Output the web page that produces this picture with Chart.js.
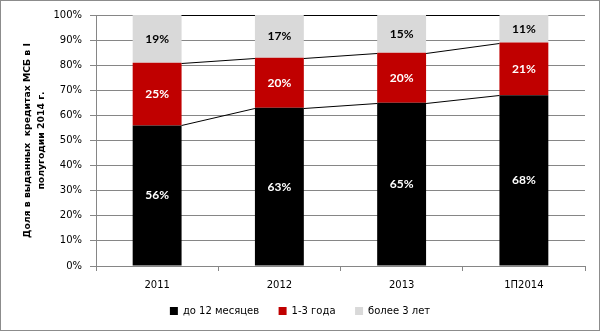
<!DOCTYPE html>
<html>
<head>
<meta charset="utf-8">
<script src="https://cdn.jsdelivr.net/npm/chart.js@4/dist/chart.umd.min.js"></script>
<style>
  html, body { margin: 0; padding: 0; background: #fff; }
  canvas { display: block; }
</style>
</head>
<body>
<canvas id="creditChart" width="600" height="331"></canvas>
<script>
const categories = ["2011", "2012", "2013", "1П2014"];
const seriesNames = ["до 12 месяцев", "1-3 года", "более 3 лет"];
const upTo12Months = [56, 63, 65, 68];
const oneToThreeYears = [25, 20, 20, 21];
const over3Years = [19, 17, 15, 11];
const yTicks = [0, 10, 20, 30, 40, 50, 60, 70, 80, 90, 100];

const colors = ["#000000", "#C00000", "#D9D9D9"];
const labelColors = ["#ffffff", "#ffffff", "#000000"];
const gridColor = "#868686";

// Линии ряда между столбцами + подписи значений
const seriesLines = {
    id: "seriesLines",
    afterDatasetsDraw(chart) {
        const ctx = chart.ctx;
        ctx.save();
        ctx.strokeStyle = "#000";
        ctx.lineWidth = 1;
        chart.data.datasets.forEach((ds, d) => {
            const bars = chart.getDatasetMeta(d).data;
            for (let i = 0; i < bars.length - 1; i++) {
                const a = bars[i], b = bars[i + 1];
                ctx.beginPath();
                ctx.moveTo(a.x + a.width / 2, Math.round(a.y) + 0.5);
                ctx.lineTo(b.x - b.width / 2, Math.round(b.y) + 0.5);
                ctx.stroke();
            }
        });
        ctx.font = "bold 12px Lato";
        ctx.textAlign = "center";
        ctx.textBaseline = "middle";
        chart.data.datasets.forEach((ds, d) => {
            const bars = chart.getDatasetMeta(d).data;
            ctx.fillStyle = labelColors[d];
            bars.forEach((bar, i) => {
                ctx.fillText(ds.data[i] + "%", bar.x, (bar.y + bar.base) / 2);
            });
        });
        ctx.restore();
    },
    afterDraw(chart) {
        const ctx = chart.ctx;
        ctx.save();
        ctx.strokeStyle = "#8c8c8c";
        ctx.lineWidth = 1;
        ctx.strokeRect(0.5, 0.5, chart.width - 1, chart.height - 1);
        ctx.restore();
    }
};

const tickFont = { family: "DejaVu Sans", size: 10 };

const ctx = document.getElementById("creditChart").getContext("2d");
const chart = new Chart(ctx, {
    type: "bar",
    data: {
        labels: categories,
        datasets: [upTo12Months, oneToThreeYears, over3Years].map((vals, i) => ({
            label: seriesNames[i],
            data: vals,
            backgroundColor: colors[i],
            barPercentage: 0.4,
            categoryPercentage: 1,
        })),
    },
    options: {
        responsive: false,
        animation: false,
        layout: { padding: { top: 15, right: 0, left: 0, bottom: 5 } },
        plugins: {
            legend: {
                position: "bottom",
                labels: {
                    font: tickFont,
                    color: "#000",
                    boxWidth: 8,
                    boxHeight: 8,
                    padding: 10,
                    // лишние пробелы — чтобы разнести элементы легенды
                    generateLabels(chart) {
                        const items = Chart.defaults.plugins.legend.labels.generateLabels(chart);
                        items.forEach((it, i) => {
                            if (i < items.length - 1) it.text = it.text + "   ";
                        });
                        return items;
                    },
                },
            },
            tooltip: { enabled: false },
        },
        scales: {
            x: {
                stacked: true,
                grid: {
                    offset: true,
                    drawOnChartArea: false,
                    drawTicks: true,
                    tickLength: 5,
                    color: gridColor,
                },
                border: { color: gridColor },
                ticks: { font: tickFont, color: "#000", padding: 8 },
                afterFit(scale) { scale.height = 30; },
            },
            y: {
                stacked: true,
                min: 0,
                max: 100,
                afterBuildTicks(scale) {
                    scale.ticks = yTicks.map(v => ({ value: v }));
                },
                grid: { color: gridColor, tickLength: 6 },
                border: { color: gridColor },
                ticks: {
                    font: tickFont,
                    color: "#000",
                    padding: 8,
                    callback: v => v + "%",
                },
                title: {
                    display: true,
                    text: ["Доля в выданных  кредитах МСБ в I", "полугодии 2014 г."],
                    font: { family: "DejaVu Sans", size: 9.3, weight: "bold", lineHeight: 1.55 },
                    color: "#000",
                    padding: { top: 20, bottom: 0 },
                },
                afterFit(scale) { scale.width = 96; },
            },
            // пустая правая ось — только отступ справа от области графика
            yRight: {
                position: "right",
                min: 0,
                max: 100,
                grid: { display: false },
                border: { display: false },
                ticks: { display: false },
                afterFit(scale) { scale.width = 15; },
            },
        },
    },
    plugins: [seriesLines],
});
</script>
</body>
</html>
